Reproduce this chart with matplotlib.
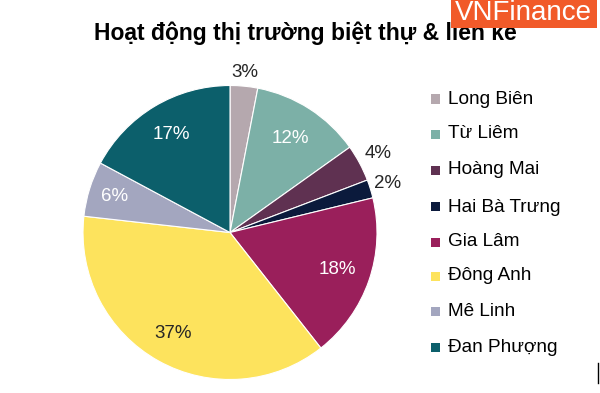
import matplotlib
matplotlib.use("Agg")
import matplotlib.pyplot as plt
import numpy as np
from matplotlib.patches import Rectangle
from matplotlib.lines import Line2D

plt.rcParams['font.family'] = ['Liberation Sans', 'DejaVu Sans']

categories = ["Long Biên", "Từ Liêm", "Hoàng Mai", "Hai Bà Trưng",
              "Gia Lâm", "Đông Anh", "Mê Linh", "Đan Phượng"]
values = [3, 12, 4, 2, 18, 37, 6, 17]
labels = ["3%", "12%", "4%", "2%", "18%", "37%", "6%", "17%"]
colors = ["#b5a8ae", "#7cb0a7", "#5f3151", "#0b1a3c",
          "#9a1f5b", "#fde35d", "#a3a6bf", "#0c5f6b"]
label_colors = ["#262626", "white", "#262626", "#262626",
                "white", "#262626", "white", "white"]
label_dist = [1.09, 0.76, 1.14, 1.12, 0.77, 0.79, 0.82, 0.78]

W, H = 600, 393
fig = plt.figure(figsize=(W / 100, H / 100), dpi=100)
fig.patch.set_facecolor("white")

cx, cy, R = 230, 232.5, 147
lim = 1.02
half = R * lim
ax = fig.add_axes([(cx - half) / W, (H - cy - half) / H, 2 * half / W, 2 * half / H])
wedges, _ = ax.pie(values, colors=colors, startangle=90, counterclock=False,
                   radius=1, wedgeprops=dict(edgecolor="white", linewidth=0.8))
ax.set_xlim(-lim, lim)
ax.set_ylim(-lim, lim)
ax.set_aspect("equal")
ax.axis("off")

for w, lab, lc, d in zip(wedges, labels, label_colors, label_dist):
    ang = np.deg2rad((w.theta1 + w.theta2) / 2)
    ax.text(d * np.cos(ang), d * np.sin(ang), lab, ha="center", va="center",
            fontsize=13.5, color=lc)

# Title
fig.text(305 / W, 1 - 33 / H, "Hoạt động thị trường biệt thự & liền kề",
         ha="center", va="center", fontsize=16.5, fontweight="bold", color="black")

# Legend
leg_y = [99, 134, 170, 207, 242, 276, 311, 347]
for yy, cat, col in zip(leg_y, categories, colors):
    fig.patches.append(Rectangle(((435 - 4.5) / W, 1 - (yy + 4.5) / H), 9 / W, 9 / H,
                                 transform=fig.transFigure, facecolor=col,
                                 edgecolor="none"))
    fig.text(448 / W, 1 - yy / H, cat, ha="left", va="center",
             fontsize=13.7, color="black")

# Logo
fig.patches.append(Rectangle((451 / W, 1 - 28 / H), 146 / W, 28 / H,
                             transform=fig.transFigure, facecolor="#f15a29",
                             edgecolor="none", zorder=5))
fig.text(523 / W, 1 - 13 / H, "VNFinance", ha="center", va="center",
         fontsize=20, color="white", zorder=6)

fig.lines.append(Line2D([598 / W, 598 / W], [1 - 363 / H, 1 - 383 / H],
                        transform=fig.transFigure, color="black", linewidth=1))

fig.savefig("out.png", dpi=100)
